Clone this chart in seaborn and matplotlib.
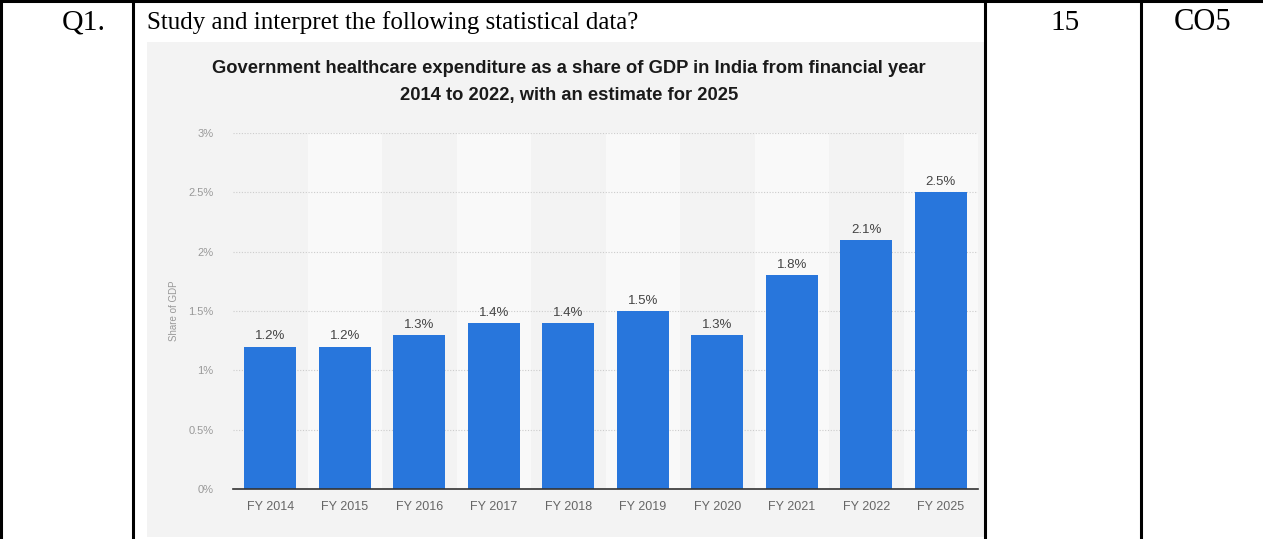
import matplotlib.pyplot as plt
import matplotlib.patches as mpatches
from matplotlib.lines import Line2D
import seaborn as sns
import pandas as pd

# Data
years = ["FY 2014", "FY 2015", "FY 2016", "FY 2017", "FY 2018",
         "FY 2019", "FY 2020", "FY 2021", "FY 2022", "FY 2025"]
share = [1.2, 1.2, 1.3, 1.4, 1.4, 1.5, 1.3, 1.8, 2.1, 2.5]
yticks = [0, 0.5, 1, 1.5, 2, 2.5, 3]
ytick_labels = ["0%", "0.5%", "1%", "1.5%", "2%", "2.5%", "3%"]

W, H = 1263, 539
BAR_BLUE = "#2876dc"

def fx(px):
    return px / W

def fy(py):
    return 1 - py / H

fig = plt.figure(figsize=(W / 100, H / 100), dpi=100)
fig.patch.set_facecolor("white")

# grey picture background
fig.add_artist(mpatches.Rectangle((fx(147), fy(537)), fx(985) - fx(147), fy(42) - fy(537),
                                  transform=fig.transFigure, facecolor="#f3f3f3",
                                  edgecolor="none", zorder=0))

# table borders
lw = 2.2
for x in [1, 133, 985, 1141]:
    fig.add_artist(Line2D([fx(x), fx(x)], [0, 1], color="black", lw=lw, transform=fig.transFigure))
fig.add_artist(Line2D([0, 1], [fy(1), fy(1)], color="black", lw=lw, transform=fig.transFigure))

serif = "Liberation Serif"
fig.text(fx(84), fy(23), "Q1.", fontsize=21.5, family=serif, ha="center", va="center")
fig.text(fx(147), fy(23), "Study and interpret the following statistical data?",
         fontsize=18, family=serif, ha="left", va="center")
fig.text(fx(1065), fy(23), "15", fontsize=21, family=serif, ha="center", va="center")
fig.text(fx(1203), fy(23), "CO5", fontsize=22, family=serif, ha="center", va="center")

# chart title
fig.text(fx(569), fy(82), "Government healthcare expenditure as a share of GDP in India from financial year\n"
         "2014 to 2022, with an estimate for 2025",
         fontsize=13.2, fontweight="bold", family="Liberation Sans", ha="center", va="center",
         linespacing=1.75, color="#1a1a1a")

ax = fig.add_axes([fx(233), fy(489), fx(978) - fx(233), fy(133) - fy(489)])
ax.set_facecolor("#f3f3f3")

df = pd.DataFrame({"year": years, "share": share})
sns.barplot(data=df, x="year", y="share", color=BAR_BLUE, width=0.7,
            saturation=1, ax=ax, zorder=3)

# alternating lighter columns
for i in range(len(years)):
    if i % 2 == 1:
        ax.axvspan(i - 0.5, i + 0.5, color="#f9f9f9", zorder=0, lw=0)

ax.set_xlim(-0.5, len(years) - 0.5)
ax.set_ylim(0, 3)
ax.set_yticks(yticks)
ax.set_yticklabels(ytick_labels)
ax.yaxis.grid(True, linestyle=(0, (1, 1.5)), color="#cccccc", lw=0.8, zorder=1)
ax.set_axisbelow(True)
for s in ["top", "right", "left"]:
    ax.spines[s].set_visible(False)
ax.spines["bottom"].set_color("#333333")
ax.spines["bottom"].set_linewidth(1.2)
ax.spines["bottom"].set_zorder(4)

ax.tick_params(axis="y", length=0, pad=14, labelsize=8, labelcolor="#999999")
ax.tick_params(axis="x", length=0, pad=9, labelsize=9, labelcolor="#666666")
for lab in ax.get_xticklabels() + ax.get_yticklabels():
    lab.set_family("Liberation Sans")

ax.set_xlabel("")
ax.set_ylabel("Share of GDP", fontsize=7, color="#999999", family="Liberation Sans", labelpad=7)

ax.bar_label(ax.containers[0], labels=[f"{v:g}%" for v in share], padding=3,
             fontsize=9.5, color="#444444", family="Liberation Sans")

fig.savefig("out.png", dpi=100)
